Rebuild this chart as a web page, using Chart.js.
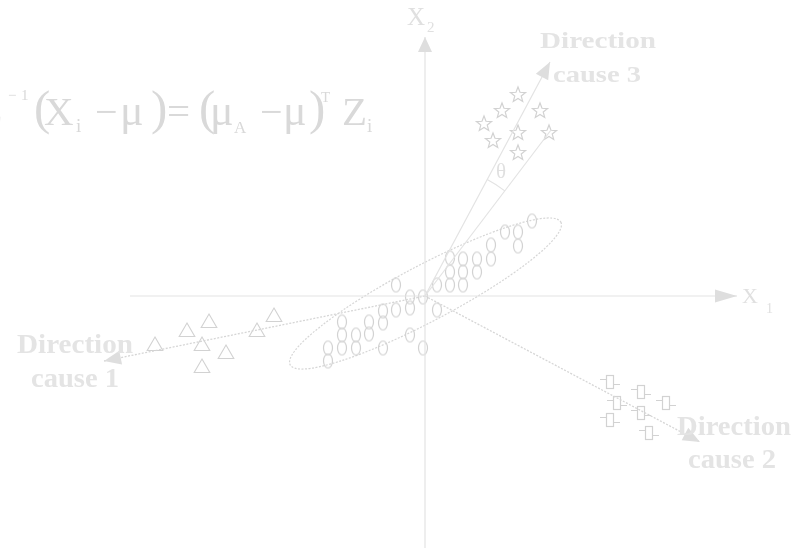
<!DOCTYPE html>
<html><head><meta charset="utf-8">
<script src="https://cdn.jsdelivr.net/npm/chart.js@4/dist/chart.umd.min.js"></script>
<style>html,body{margin:0;padding:0;background:#fff;}#wrap{width:799px;height:552px;position:relative;}</style>
</head><body><div id="wrap"><canvas id="c"></canvas></div>
<script>
// ---- Data (diagram units; y grows downward) ----
const ovalPoints = [[532,221],[505,232],[518,232],[518,246],[491,245],[491,259],[450,258],[463,259],[477,259],
  [450,272],[463,272],[477,272],[437,285],[450,285],[463,285],[396,285],[410,297],[423,297],[410,308],[396,310],
  [383,311],[437,310],[383,323],[369,322],[369,334],[356,335],[342,322],[342,335],[342,348],[356,348],[328,348],
  [328,361],[383,348],[410,335],[423,348]];
const trianglePoints = [[155,346],[187,332],[209,323],[202,346],[226,354],[202,368],[257,332],[274,317]];
const starPoints = [[518,94],[502,110],[540,110],[484,123],[518,132],[549,132],[493,140],[518,152]];
const boxPoints = [[610,382],[641,392],[617,403],[666,403],[641,413],[610,420],[649,433]];

const axisX1 = [[130,296],[737,296]];
const axisX2 = [[425,548],[425,37]];
const cause3Line = [[425,296],[550,62]];
const thetaLine = [[425,296],[551,130]];
const cause1Line = [[425,296],[104,361]];
const cause2Line = [[425,296],[700,442]];

const ellipseCenter = [425.5,293.5];
const ellipseAxes = [153,28];
const ellipseTilt = 27.8;      // degrees, rising to the right
const thetaArcRadius = 132;

const directionLabels = [['Direction','cause 3'],['Direction','cause 1'],['Direction','cause 2']];
const axisLabels = [['X','2'],['X','1']];

// ---- point style glyphs ----
const MARK = '#d2d2d2';
function glyph(w,h,draw){const c=document.createElement('canvas');c.width=w;c.height=h;const g=c.getContext('2d');g.strokeStyle=MARK;g.lineWidth=1.2;draw(g,w,h);return c;}
const ovalImg = glyph(12,17,(g,w,h)=>{g.beginPath();g.ellipse(w/2,h/2,4.5,7,0,0,Math.PI*2);g.stroke();});
const starImg = glyph(20,20,(g,w,h)=>{g.beginPath();for(let i=0;i<10;i++){const r=i%2?3.4:8;const a=-Math.PI/2+i*Math.PI/5;const px=w/2+r*Math.cos(a),py=h/2+1+r*Math.sin(a);i?g.lineTo(px,py):g.moveTo(px,py);}g.closePath();g.stroke();});
const boxImg = glyph(24,18,(g,w,h)=>{g.strokeRect(w/2-3.5,h/2-6.5,7,13);g.beginPath();g.moveTo(w/2-10,h/2-2.5);g.lineTo(w/2-3.5,h/2-2.5);g.moveTo(w/2+3.5,h/2+2.5);g.lineTo(w/2+10,h/2+2.5);g.stroke();});

const toXY = a => a.map(p=>({x:p[0],y:p[1]}));
const LINE='#e3e3e3', DOT='#d6d6d6';
function lineDs(pts,color,dash,w){return {data:toXY(pts),showLine:true,borderColor:color,borderWidth:w||1.2,borderDash:dash||[],pointRadius:0,arrow:true};}

const datasets = [
  Object.assign(lineDs(axisX1,LINE),{arrowLen:22,arrowHalf:6.5}),
  Object.assign(lineDs(axisX2,LINE),{arrowLen:15,arrowHalf:7}),
  Object.assign(lineDs(cause3Line,LINE),{arrowLen:17,arrowHalf:7}),
  Object.assign(lineDs(thetaLine,LINE),{arrow:false}),
  Object.assign(lineDs(cause1Line,DOT,[2,1.5],1.3),{arrowLen:17,arrowHalf:7}),
  Object.assign(lineDs(cause2Line,DOT,[2,1.5],1.3),{arrowLen:17,arrowHalf:7}),
  {data:toXY(ovalPoints),pointStyle:ovalImg,pointRadius:6},
  {data:toXY(trianglePoints),pointStyle:'triangle',pointRadius:9,borderColor:MARK,backgroundColor:'rgba(0,0,0,0)',pointBorderWidth:1.1},
  {data:toXY(starPoints),pointStyle:starImg,pointRadius:8},
  {data:toXY(boxPoints),pointStyle:boxImg,pointRadius:8}
];

const deco = {
  id:'deco',
  beforeDatasetsDraw(chart){
    const {ctx,scales:{x,y}} = chart;
    const cx=x.getPixelForValue(ellipseCenter[0]), cy=y.getPixelForValue(ellipseCenter[1]);
    const ra=x.getPixelForValue(ellipseCenter[0]+ellipseAxes[0])-cx, rb=x.getPixelForValue(ellipseCenter[0]+ellipseAxes[1])-cx;
    ctx.save();ctx.strokeStyle=DOT;ctx.lineWidth=1.2;ctx.setLineDash([2,1.5]);
    ctx.beginPath();ctx.ellipse(cx,cy,ra,rb,-ellipseTilt*Math.PI/180,0,Math.PI*2);ctx.stroke();ctx.restore();
    const ox=x.getPixelForValue(cause3Line[0][0]), oy=y.getPixelForValue(cause3Line[0][1]);
    const a1=Math.atan2(y.getPixelForValue(cause3Line[1][1])-oy,x.getPixelForValue(cause3Line[1][0])-ox);
    const a2=Math.atan2(y.getPixelForValue(thetaLine[1][1])-oy,x.getPixelForValue(thetaLine[1][0])-ox);
    const r=x.getPixelForValue(cause3Line[0][0]+thetaArcRadius)-ox;
    ctx.save();ctx.strokeStyle=LINE;ctx.lineWidth=1.2;ctx.beginPath();ctx.arc(ox,oy,r,a1,a2,false);ctx.stroke();ctx.restore();
  },
  afterDatasetsDraw(chart){
    const {ctx,scales:{x,y}} = chart;
    chart.data.datasets.forEach((ds,i)=>{
      if(!ds.arrow) return;
      const m=chart.getDatasetMeta(i).data; const p0=m[m.length-2], p1=m[m.length-1];
      const ang=Math.atan2(p1.y-p0.y,p1.x-p0.x), L=ds.arrowLen, H=ds.arrowHalf;
      const bx=p1.x-L*Math.cos(ang), by=p1.y-L*Math.sin(ang);
      ctx.save();ctx.fillStyle='#dedede';ctx.beginPath();ctx.moveTo(p1.x,p1.y);
      ctx.lineTo(bx-H*Math.sin(ang),by+H*Math.cos(ang));ctx.lineTo(bx+H*Math.sin(ang),by-H*Math.cos(ang));ctx.closePath();ctx.fill();ctx.restore();
    });
    const px=v=>x.getPixelForValue(v), py=v=>y.getPixelForValue(v);
    function fitText(t,x0,x1,base,font,color){
      ctx.save();ctx.font=font;ctx.fillStyle=color;ctx.textBaseline='alphabetic';ctx.textAlign='left';
      const w=ctx.measureText(t).width;const s=(px(x1)-px(x0))/w;
      ctx.translate(px(x0),py(base));ctx.scale(s,1);ctx.fillText(t,0,0);ctx.restore();
    }
    function txt(t,x0,base,size,color,bold){
      ctx.save();ctx.font=(bold?'bold ':'')+size+'px "Liberation Serif", "DejaVu Serif", serif';ctx.fillStyle=color;
      ctx.textBaseline='alphabetic';ctx.textAlign='left';ctx.fillText(t,px(x0),py(base));ctx.restore();
    }
    const LB='#e4e4e4';
    const bf=s=>'bold '+s+'px "Liberation Serif", serif';
    fitText(directionLabels[0][0],540,656,48,bf(24),LB);
    fitText(directionLabels[0][1],553,641,82,bf(24),LB);
    fitText(directionLabels[1][0],17,133,353,bf(27),LB);
    fitText(directionLabels[1][1],31,119,387,bf(27),LB);
    fitText(directionLabels[2][0],677,791,435,bf(27),LB);
    fitText(directionLabels[2][1],688,776,468,bf(27),LB);
    const AX='#e0e0e0';
    txt(axisLabels[0][0],407,25,25,AX,false); txt(axisLabels[0][1],427,32,15,AX,false);
    txt(axisLabels[1][0],742,303,22,AX,false); txt(axisLabels[1][1],766,313,14,AX,false);
    txt('θ',496,178,21,AX,false);
    const EQ='#d9d9d9';
    txt('Σ',-21,124,40,EQ); txt('−',8,100,15,EQ); txt('1',21,100,15,EQ);
    txt('(',34,124,49,EQ); txt('X',44,125,41,EQ); txt('i',76,132,19,EQ);
    txt('−',95,125,40,EQ); txt('μ',120,125,44,EQ); txt(')',151,124,49,EQ);
    txt('=',167,125,41,EQ);
    txt('(',199,124,49,EQ); txt('μ',210,125,44,EQ); txt('A',234,133,17,EQ);
    txt('−',260,125,40,EQ); txt('μ',283,125,44,EQ); txt(')',309,124,49,EQ);
    txt('T',321,102,15,EQ); txt('Z',342,125,41,EQ); txt('i',367,132,19,EQ);
  }
};

new Chart(document.getElementById('c'),{
  type:'scatter',
  data:{datasets},
  options:{
    responsive:true,maintainAspectRatio:false,animation:false,events:[],
    layout:{padding:0,autoPadding:false},
    plugins:{legend:{display:false},tooltip:{enabled:false}},
    scales:{
      x:{type:'linear',min:0,max:799,display:false},
      y:{type:'linear',min:0,max:552,reverse:true,display:false}
    }
  },
  plugins:[deco]
});
</script></body></html>
